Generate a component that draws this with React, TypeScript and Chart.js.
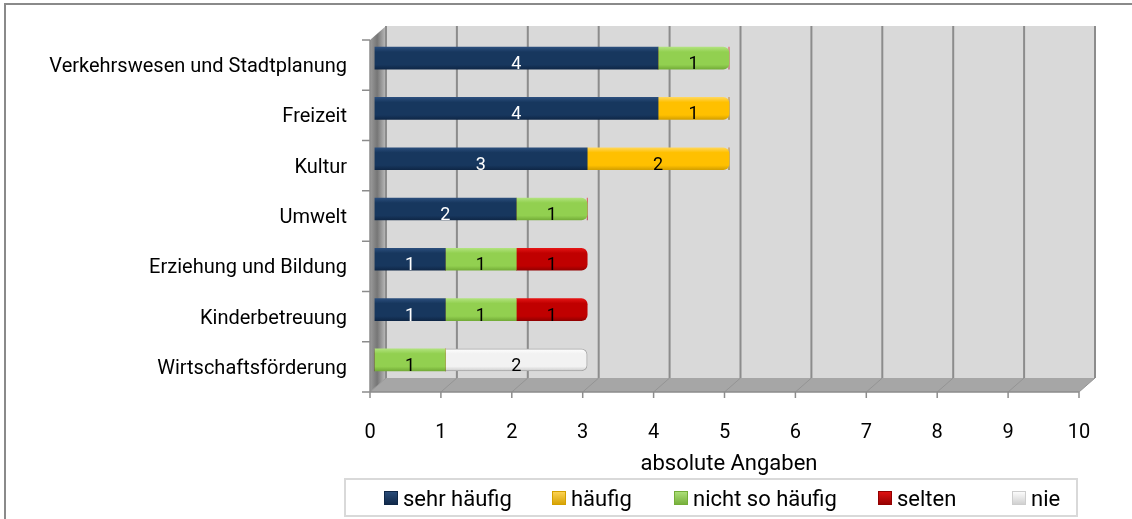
import React, { useEffect, useRef } from "react";
import { Chart, registerables } from "chart.js";

Chart.register(...registerables);

const categories = [
  "Verkehrswesen und Stadtplanung",
  "Freizeit",
  "Kultur",
  "Umwelt",
  "Erziehung und Bildung",
  "Kinderbetreuung",
  "Wirtschaftsförderung",
];
const seriesNames = ["sehr häufig", "häufig", "nicht so häufig", "selten", "nie"];
const sehrHaeufig = [4, 4, 3, 2, 1, 1, 0];
const haeufig = [0, 1, 2, 0, 0, 0, 0];
const nichtSoHaeufig = [1, 0, 0, 1, 1, 1, 1];
const selten = [0, 0, 0, 0, 1, 1, 0];
const nie = [0, 0, 0, 0, 0, 0, 2];
const xMin = 0;
const xMax = 10;
const xStep = 1;
const axisTitle = "absolute Angaben";

const seriesColors = ["#17375E", "#FFC000", "#92D050", "#C00000", "#F2F2F2"];
const seriesLight = ["#2b4e7c", "#ffd659", "#b0e27c", "#e41414", "#ffffff"];
const seriesDark = ["#0f2747", "#d4a000", "#74ad38", "#930000", "#cdcdcd"];
const labelColors = ["#ffffff", "#000000", "#000000", "#000000", "#000000"];
const legendX = [384, 552, 674, 878, 1012];
const FONT = "Roboto";

// 3D offsets relative to the bar plane
const FX = -4.5, FY = 7, BX = 11.5, BY = -7;

function gradientFill(i: number) {
  return (ctx: any) => {
    const chart = ctx.chart;
    const y = chart.scales && chart.scales.y;
    if (!y || ctx.type !== "data") return seriesColors[i];
    const yc = y.getPixelForValue(ctx.dataIndex);
    if (!isFinite(yc)) return seriesColors[i];
    const g = chart.ctx.createLinearGradient(0, yc - 11, 0, yc + 11);
    g.addColorStop(0, seriesLight[i]);
    g.addColorStop(0.22, seriesColors[i]);
    g.addColorStop(0.8, seriesColors[i]);
    g.addColorStop(1, seriesDark[i]);
    return g;
  };
}

const decorPlugin = {
  id: "decor",
  beforeDraw(chart: any) {
    const c = chart.ctx;
    c.save();
    c.fillStyle = "#ffffff";
    c.fillRect(0, 0, chart.width, chart.height);
    c.strokeStyle = "#8a8a8a";
    c.lineWidth = 2;
    c.strokeRect(5, 4, chart.width + 20, chart.height + 20);
    c.restore();
  },
  beforeDatasetsDraw(chart: any) {
    const { ctx, chartArea: a, scales } = chart;
    const x = scales.x;
    const x0 = x.getPixelForValue(xMin);
    const x1 = x.getPixelForValue(xMax);
    ctx.save();
    // back wall
    ctx.fillStyle = "#d9d9d9";
    ctx.fillRect(x0 + BX, a.top + BY, x1 - x0, a.bottom - a.top);
    // floor
    ctx.fillStyle = "#a6a6a6";
    ctx.beginPath();
    ctx.moveTo(x0 + FX, a.bottom + FY);
    ctx.lineTo(x1 + FX, a.bottom + FY);
    ctx.lineTo(x1 + BX, a.bottom + BY);
    ctx.lineTo(x0 + BX, a.bottom + BY);
    ctx.closePath();
    ctx.fill();
    // left wall
    const lg = ctx.createLinearGradient(x0 + FX, 0, x0 + BX, 0);
    lg.addColorStop(0, "#9c9c9c");
    lg.addColorStop(0.45, "#767676");
    lg.addColorStop(1, "#bdbdbd");
    ctx.fillStyle = lg;
    ctx.beginPath();
    ctx.moveTo(x0 + FX, a.top + FY);
    ctx.lineTo(x0 + BX, a.top + BY);
    ctx.lineTo(x0 + BX, a.bottom + BY);
    ctx.lineTo(x0 + FX, a.bottom + FY);
    ctx.closePath();
    ctx.fill();
    // gridlines
    x.ticks.forEach((t: any) => {
      const px = x.getPixelForValue(t.value);
      ctx.strokeStyle = "#8c8c8c";
      ctx.lineWidth = 2;
      ctx.beginPath();
      ctx.moveTo(px + BX, a.top + BY);
      ctx.lineTo(px + BX, a.bottom + BY);
      ctx.stroke();
      ctx.lineWidth = 1;
      ctx.strokeStyle = "#949494";
      ctx.beginPath();
      ctx.moveTo(px + BX, a.bottom + BY);
      ctx.lineTo(px + FX, a.bottom + FY);
      ctx.stroke();
      // tick mark
      ctx.strokeStyle = "#8c8c8c";
      ctx.lineWidth = 1.5;
      ctx.beginPath();
      ctx.moveTo(px + FX, a.bottom + FY);
      ctx.lineTo(px + FX, a.bottom + FY + 6);
      ctx.stroke();
    });
    // front axis lines
    ctx.strokeStyle = "#8c8c8c";
    ctx.lineWidth = 1.5;
    ctx.beginPath();
    ctx.moveTo(x0 + FX, a.bottom + FY);
    ctx.lineTo(x1 + FX, a.bottom + FY);
    ctx.moveTo(x0 + FX, a.top + FY);
    ctx.lineTo(x0 + FX, a.bottom + FY);
    ctx.stroke();
    // category tick marks
    const n = categories.length;
    const band = (a.bottom - a.top) / n;
    ctx.beginPath();
    for (let i = 0; i <= n; i++) {
      const yy = a.top + i * band + FY;
      ctx.moveTo(x0 + FX - 8, yy);
      ctx.lineTo(x0 + FX, yy);
    }
    ctx.stroke();
    ctx.restore();
  },
  afterDatasetsDraw(chart: any) {
    const ctx = chart.ctx;
    ctx.save();
    ctx.font = `18px ${FONT}`;
    ctx.textAlign = "center";
    ctx.textBaseline = "alphabetic";
    chart.data.datasets.forEach((ds: any, di: number) => {
      const meta = chart.getDatasetMeta(di);
      meta.data.forEach((el: any, i: number) => {
        const v = ds.data[i];
        if (!v) return;
        const p = el.getProps(["x", "y", "base"], true);
        ctx.fillStyle = labelColors[di];
        ctx.fillText(String(v), (p.x + p.base) / 2, p.y + 11);
      });
    });
    ctx.restore();
  },
  afterDraw(chart: any) {
    const ctx = chart.ctx;
    ctx.save();
    ctx.strokeStyle = "#d9d9d9";
    ctx.lineWidth = 2;
    ctx.strokeRect(345, 479, 732, 37);
    ctx.font = `22px ${FONT}`;
    ctx.textBaseline = "alphabetic";
    ctx.textAlign = "left";
    chart.data.datasets.forEach((ds: any, i: number) => {
      const xx = legendX[i];
      const g = ctx.createLinearGradient(0, 491, 0, 505);
      g.addColorStop(0, seriesLight[i]);
      g.addColorStop(1, seriesDark[i]);
      ctx.fillStyle = g;
      ctx.fillRect(xx, 491, 14, 14);
      ctx.strokeStyle = seriesDark[i];
      ctx.lineWidth = 1;
      ctx.strokeRect(xx + 0.5, 491.5, 13, 13);
      ctx.fillStyle = "#000";
      ctx.fillText(ds.label, xx + 19, 506);
    });
    ctx.restore();
  },
};

export default function App() {
  const ref = useRef<HTMLCanvasElement>(null);
  useEffect(() => {
    const seriesData = [sehrHaeufig, haeufig, nichtSoHaeufig, selten, nie];
    const chart = new Chart(ref.current as HTMLCanvasElement, {
      type: "bar",
      data: {
        labels: categories,
        datasets: seriesNames.map((name, i) => ({
          label: name,
          data: seriesData[i],
          backgroundColor: gradientFill(i) as any,
          borderColor: i === 4 ? "#a6a6a6" : seriesDark[i],
          borderWidth: i === 4 ? 1 : 0,
          borderRadius: 6,
          barThickness: 22,
        })),
      },
      options: {
        indexAxis: "y",
        animation: false,
        responsive: false,
        devicePixelRatio: 1,
        layout: { padding: { left: 0, right: 48.5, top: 33, bottom: 41.8 } },
        plugins: { legend: { display: false }, tooltip: { enabled: false } },
        scales: {
          x: {
            type: "linear",
            min: xMin,
            max: xMax,
            stacked: true,
            ticks: {
              stepSize: xStep,
              font: { family: FONT, size: 20 },
              color: "#000",
              padding: 36,
              labelOffset: FX,
            },
            grid: { display: false, drawTicks: false },
            border: { display: false },
            title: {
              display: true,
              text: axisTitle,
              font: { family: FONT, size: 22 },
              color: "#000",
              padding: 0,
            },
            afterFit: (s: any) => {
              s.height = 92.2;
            },
          },
          y: {
            type: "category",
            stacked: true,
            ticks: {
              font: { family: FONT, size: 20 },
              color: "#000",
              padding: 27.5,
              labelOffset: 9,
            },
            grid: { display: false, drawTicks: false },
            border: { display: false },
            afterFit: (s: any) => {
              s.width = 374.5;
              s.paddingTop = 0;
              s.paddingBottom = 0;
            },
          },
        },
      },
      plugins: [decorPlugin],
    } as any);
    return () => chart.destroy();
  }, []);
  return (
    <div style={{ position: "absolute", left: 0, top: 0, width: 1132, height: 519 }}>
      <canvas ref={ref} width={1132} height={519} style={{ display: "block", width: 1132, height: 519 }} />
    </div>
  );
}
